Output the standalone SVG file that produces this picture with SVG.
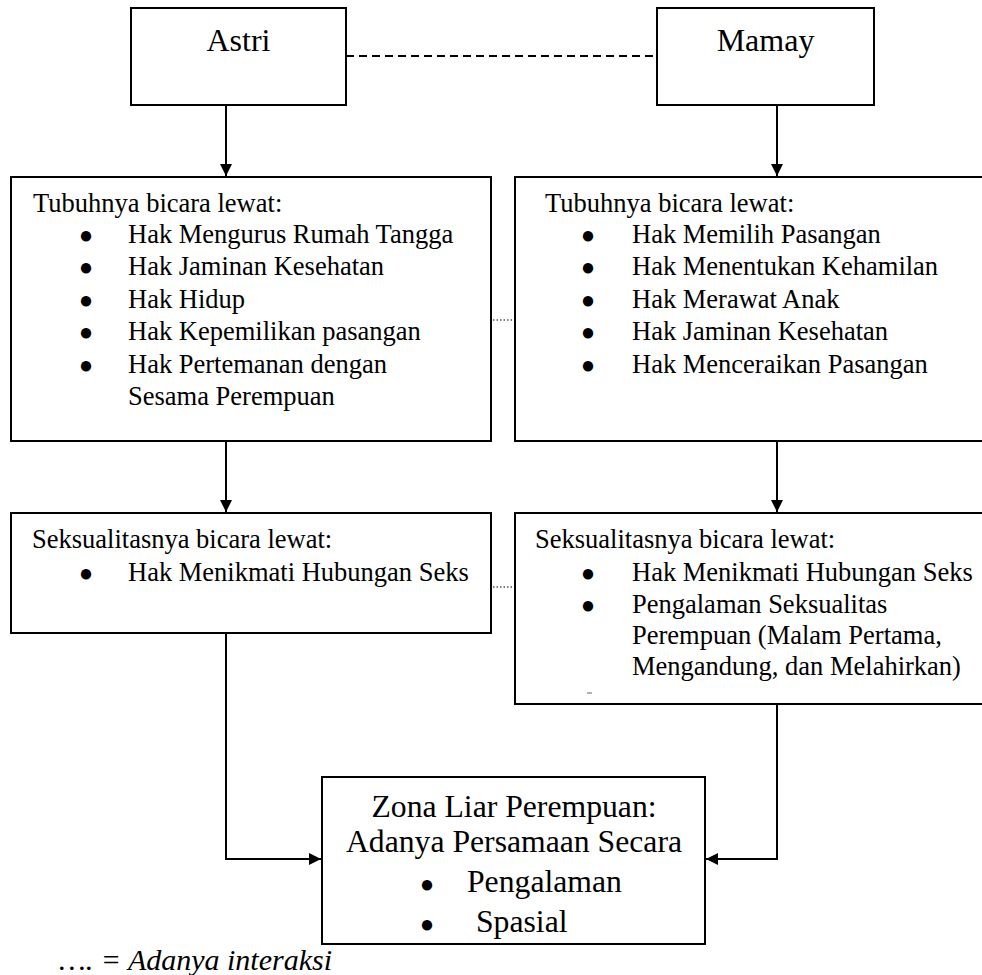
<svg xmlns="http://www.w3.org/2000/svg" width="982" height="975" viewBox="0 0 982 975">
<style>
  text { font-family: "Liberation Serif", "Times New Roman", serif; fill: #000; }
  .box { fill: #fff; stroke: #000; stroke-width: 2; }
  .t { font-size: 26.5px; }
  .big { font-size: 32px; }
  .mid { font-size: 31.7px; }
  .bul { font-size: 24px; text-anchor: middle; }
  .c { text-anchor: middle; }
  .conn { fill: none; stroke: #000; stroke-width: 2; }
  .dash { fill: none; stroke: #000; stroke-width: 2; stroke-dasharray: 8 5; }
  .dot { fill: none; stroke: #000; stroke-width: 1.2; stroke-dasharray: 1.5 2; }
  .leg { font-size: 30px; font-style: italic; }
</style>
<defs>
  <marker id="arr" viewBox="0 0 12 12" refX="12" refY="6" markerWidth="12" markerHeight="12" markerUnits="userSpaceOnUse" orient="auto">
    <path d="M0,0 L12,6 L0,12 Z" fill="#000"/>
  </marker>
</defs>

<g id="connectors">
  <line class="dash" x1="346" y1="56" x2="657" y2="56"/>
  <line class="dot" x1="493" y1="320" x2="514" y2="320"/>
  <line class="dot" x1="493" y1="587" x2="514" y2="587"/>
  <line class="conn" x1="226" y1="105" x2="226" y2="176" marker-end="url(#arr)"/>
  <line class="conn" x1="777" y1="105" x2="777" y2="176" marker-end="url(#arr)"/>
  <line class="conn" x1="226" y1="441" x2="226" y2="512" marker-end="url(#arr)"/>
  <line class="conn" x1="777" y1="441" x2="777" y2="512" marker-end="url(#arr)"/>
  <polyline class="conn" points="226,633 226,859 321,859" marker-end="url(#arr)"/>
  <polyline class="conn" points="777,704 777,859 706,859" marker-end="url(#arr)"/>
</g>

<g id="astri">
  <rect class="box" x="131" y="8" width="215" height="97"/>
  <text class="big c" x="238.5" y="51">Astri</text>
</g>

<g id="mamay">
  <rect class="box" x="657" y="8" width="217" height="97"/>
  <text class="big c" x="765.5" y="51">Mamay</text>
</g>

<g id="astri-tubuh">
  <rect class="box" x="11" y="177" width="480" height="264"/>
  <text class="t" x="33" y="212">Tubuhnya bicara lewat:</text>
  <text class="bul" x="86" y="243">●</text>
  <text class="t" x="128" y="243">Hak Mengurus Rumah Tangga</text>
  <text class="bul" x="86" y="275.4">●</text>
  <text class="t" x="128" y="275.4">Hak Jaminan Kesehatan</text>
  <text class="bul" x="86" y="307.8">●</text>
  <text class="t" x="128" y="307.8">Hak Hidup</text>
  <text class="bul" x="86" y="340.2">●</text>
  <text class="t" x="128" y="340.2">Hak Kepemilikan pasangan</text>
  <text class="bul" x="86" y="372.6">●</text>
  <text class="t" x="128" y="372.6">Hak Pertemanan dengan</text>
  <text class="t" x="128" y="405">Sesama Perempuan</text>
</g>

<g id="mamay-tubuh">
  <rect class="box" x="515" y="177" width="480" height="264"/>
  <text class="t" x="545" y="212">Tubuhnya bicara lewat:</text>
  <text class="bul" x="588" y="243">●</text>
  <text class="t" x="632" y="243">Hak Memilih Pasangan</text>
  <text class="bul" x="588" y="275.4">●</text>
  <text class="t" x="632" y="275.4">Hak Menentukan Kehamilan</text>
  <text class="bul" x="588" y="307.8">●</text>
  <text class="t" x="632" y="307.8">Hak Merawat Anak</text>
  <text class="bul" x="588" y="340.2">●</text>
  <text class="t" x="632" y="340.2">Hak Jaminan Kesehatan</text>
  <text class="bul" x="588" y="372.6">●</text>
  <text class="t" x="632" y="372.6">Hak Menceraikan Pasangan</text>
</g>

<g id="astri-seks">
  <rect class="box" x="11" y="513" width="480" height="120"/>
  <text class="t" x="32" y="548">Seksualitasnya bicara lewat:</text>
  <text class="bul" x="86" y="581">●</text>
  <text class="t" x="128" y="581">Hak Menikmati Hubungan Seks</text>
</g>

<g id="mamay-seks">
  <rect class="box" x="515" y="513" width="480" height="191"/>
  <text class="t" x="535" y="548">Seksualitasnya bicara lewat:</text>
  <text class="bul" x="588" y="581">●</text>
  <text class="t" x="632" y="581">Hak Menikmati Hubungan Seks</text>
  <text class="bul" x="588" y="613">●</text>
  <text class="t" x="632" y="613">Pengalaman Seksualitas</text>
  <text class="t" x="632" y="644">Perempuan (Malam Pertama,</text>
  <text class="t" x="632" y="675">Mengandung, dan Melahirkan)</text>
  <line x1="587" y1="693" x2="592" y2="693" stroke="#666" stroke-width="1"/>
</g>

<g id="zona">
  <rect class="box" x="322" y="777" width="383" height="167"/>
  <text class="mid c" x="514" y="817">Zona Liar Perempuan:</text>
  <text class="mid c" x="514" y="852">Adanya Persamaan Secara</text>
  <text class="bul" x="427" y="892">●</text>
  <text class="mid" x="467" y="892">Pengalaman</text>
  <text class="bul" x="427" y="932">●</text>
  <text class="mid" x="476" y="932">Spasial</text>
</g>

<g id="legend">
  <text class="leg" x="59" y="970">…. = Adanya interaksi</text>
</g>
</svg>
